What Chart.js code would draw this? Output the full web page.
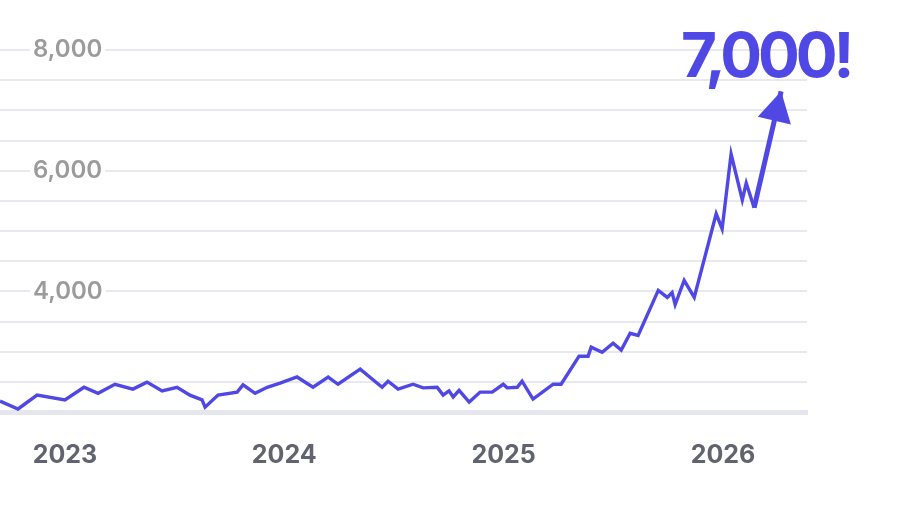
<!DOCTYPE html>
<html>
  <head>
    <title>Growth chart</title>
    <script src="https://cdn.jsdelivr.net/npm/chart.js@4"></script>
    <style>
      html, body { margin: 0; padding: 0; background: #fff; }
      #wrap { position: relative; width: 897px; height: 505px; }
      #callout {
        position: absolute;
        left: 681px;
        top: 24px;
        font-family: Inter, sans-serif;
        font-weight: 700;
        font-size: 62px;
        line-height: 1;
        letter-spacing: -4px;
        color: #5048e5;
        white-space: nowrap;
      }
    </style>
  </head>
  <body>
    <div id="wrap">
      <canvas id="chart" width="897" height="505"></canvas>
      <div id="callout">7,000!</div>
    </div>

    <script>
      // decimal years and values
      const years = [
        2022.704, 2022.786, 2022.873, 2023.000, 2023.087, 2023.151, 2023.228, 2023.310, 2023.374, 2023.443,
        2023.511, 2023.570, 2023.625, 2023.639, 2023.698, 2023.785, 2023.812, 2023.867, 2023.922, 2023.981,
        2024.058, 2024.131, 2024.200, 2024.245, 2024.346, 2024.446, 2024.473, 2024.519, 2024.587, 2024.633,
        2024.697, 2024.724, 2024.751, 2024.770, 2024.797, 2024.843, 2024.893, 2024.948, 2024.998, 2025.016,
        2025.062, 2025.084, 2025.134, 2025.226, 2025.262, 2025.344, 2025.385, 2025.399, 2025.449, 2025.499,
        2025.536, 2025.577, 2025.613, 2025.705, 2025.746, 2025.768, 2025.782, 2025.823, 2025.869, 2025.969,
        2025.996, 2026.037, 2026.088, 2026.106, 2026.142, 2026.265,
      ]
      const values = [
        2180, 2050, 2280, 2200, 2410, 2310, 2460, 2380, 2495, 2350,
        2410, 2280, 2200, 2080, 2280, 2330, 2450, 2310, 2410, 2480,
        2580, 2410, 2580, 2460, 2710, 2410, 2510, 2380, 2460, 2400,
        2410, 2280, 2350, 2250, 2360, 2165, 2330, 2330, 2460, 2400,
        2410, 2510, 2215, 2460, 2460, 2925, 2925, 3075, 2990, 3140,
        3025, 3305, 3270, 4015, 3900, 3980, 3780, 4180, 3900, 5285,
        5035, 6275, 5515, 5795, 5385, 7315,
      ]
      const yLabelValues = [4000, 6000, 8000]
      const xRange = [2022.704, 2026.383]
      const yRange = [2000, 8000]

      const indigo = "#5048e5"

      // draws the arrow head on the last segment
      const arrowHead = {
        id: "arrowHead",
        afterDatasetsDraw(chart) {
          const pts = chart.getDatasetMeta(0).data
          const tip = pts[pts.length - 1]
          const prev = pts[pts.length - 2]
          const dx = tip.x - prev.x
          const dy = tip.y - prev.y
          const len = Math.hypot(dx, dy)
          const ux = dx / len, uy = dy / len
          const headLen = 30, halfW = 17
          const bx = tip.x - ux * headLen, by = tip.y - uy * headLen
          const ctx = chart.ctx
          ctx.save()
          ctx.fillStyle = indigo
          ctx.beginPath()
          ctx.moveTo(tip.x, tip.y)
          ctx.lineTo(bx - uy * halfW, by + ux * halfW)
          ctx.lineTo(bx + uy * halfW, by - ux * halfW)
          ctx.closePath()
          ctx.fill()
          ctx.restore()
        },
      }

      const lastIndex = values.length - 1

      new Chart(document.getElementById("chart"), {
        type: "line",
        data: {
          datasets: [
            {
              data: years.map((x, i) => ({ x, y: values[i] })),
              borderColor: indigo,
              borderWidth: 3.4,
              pointRadius: 0,
              tension: 0,
              borderJoinStyle: "miter",
              clip: false,
              segment: {
                borderWidth: ctx => (ctx.p1DataIndex === lastIndex ? 5 : 3.4),
              },
            },
          ],
        },
        plugins: [arrowHead],
        options: {
          responsive: false,
          animation: false,
          layout: { padding: { top: 50, right: 90, bottom: 0, left: 0 } },
          plugins: { legend: { display: false }, tooltip: { enabled: false } },
          scales: {
            x: {
              type: "linear",
              min: xRange[0],
              max: xRange[1],
              afterFit(scale) {
                scale.height = 93
                scale.paddingLeft = 0
                scale.paddingRight = 0
              },
              grid: { display: false, drawTicks: false },
              border: { display: true, color: "#e6e7ee", width: 5 },
              ticks: {
                stepSize: 1,
                includeBounds: false,
                padding: 28,
                maxRotation: 0,
                color: "#61646f",
                font: { family: "Inter", size: 25, weight: "700" },
                callback: v => String(v),
              },
            },
            y: {
              min: yRange[0],
              max: yRange[1],
              afterFit(scale) {
                scale.width = 0
                scale.paddingTop = 0
                scale.paddingBottom = 0
              },
              grid: { color: "#e8e9ef", lineWidth: 2, drawTicks: false },
              border: { display: false },
              ticks: {
                stepSize: 500,
                autoSkip: false,
                mirror: true,
                padding: 33,
                showLabelBackdrop: true,
                backdropPadding: 3,
                backdropColor: ctx => (yLabelValues.includes(ctx.tick.value) ? "#ffffff" : "rgba(0,0,0,0)"),
                color: "#9b9b9b",
                font: { family: "Inter", size: 24, weight: "600" },
                callback: v => (yLabelValues.includes(v) ? v.toLocaleString("en-US") : ""),
              },
            },
          },
        },
      })
    </script>
  </body>
</html>
